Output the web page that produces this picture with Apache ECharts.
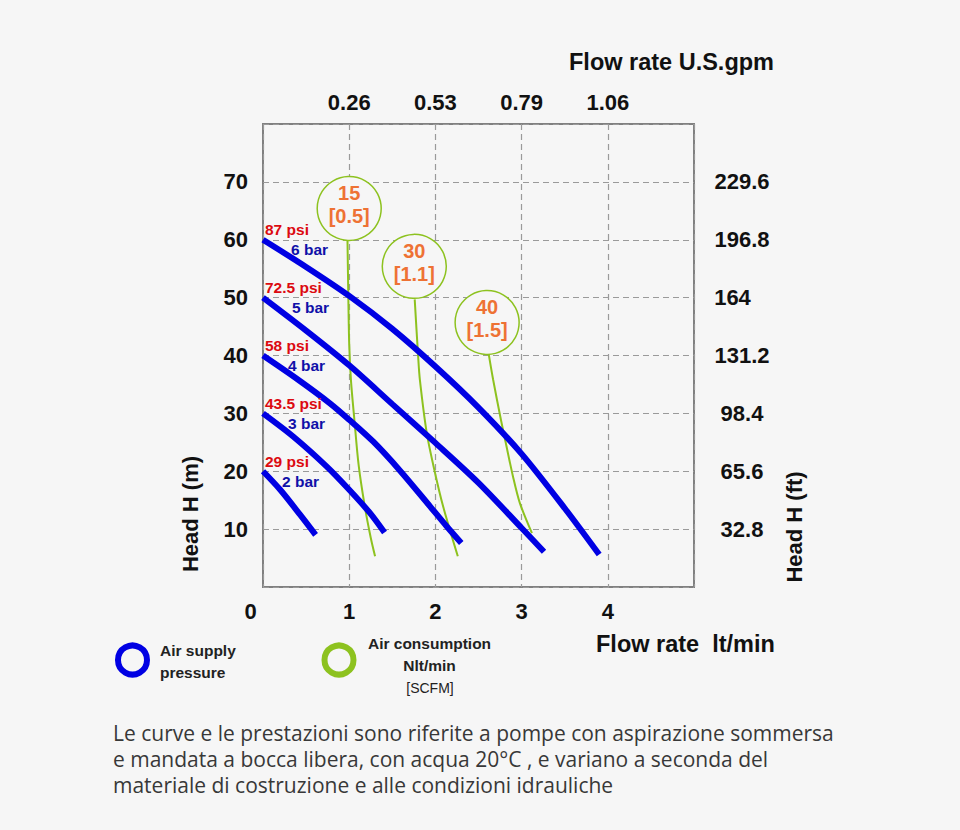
<!DOCTYPE html>
<html>
<head>
<meta charset="utf-8">
<script src="https://cdn.jsdelivr.net/npm/echarts@6/dist/echarts.min.js"></script>
<style>
html,body{margin:0;padding:0;background:#f6f6f6;}
#chart{width:960px;height:830px;}
</style>
</head>
<body>
<div id="chart"></div>
<script>
// ---------- DATA ----------
const flowLabels = ['0', '1', '2', '3', '4'];            // lt/min (bottom)
const gpmLabels = ['0.26', '0.53', '0.79', '1.06'];      // U.S.gpm at 1..4 lt/min (top)
const headMLabels = ['10', '20', '30', '40', '50', '60', '70'];
const headFtLabels = ['32.8', '65.6', '98.4', '131.2', '164', '196.8', '229.6'];

const pressureBar = ['6 bar', '5 bar', '4 bar', '3 bar', '2 bar'];
const pressurePsi = ['87 psi', '72.5 psi', '58 psi', '43.5 psi', '29 psi'];
const pressureStartHead = [60, 50, 40, 30, 20];

// Air supply pressure curves [flow lt/min, head m]
const curve6bar = [[0, 60], [0.5, 55.3], [1, 50.3], [1.5, 44.6], [2, 38.1], [2.5, 31.0], [3, 23.0], [3.5, 13.6], [3.9, 5.6]];
const curve5bar = [[0, 50], [0.5, 44.3], [1, 38.3], [1.5, 31.6], [2, 24.9], [2.5, 18.0], [3, 10.2], [3.26, 6.1]];
const curve4bar = [[0, 40], [0.4, 35.9], [0.78, 31.7], [1, 28.9], [1.28, 25.1], [1.59, 20.1], [1.94, 13.9], [2.13, 10.5], [2.30, 7.6]];
const curve3bar = [[0, 30], [0.35, 26.0], [0.74, 20.8], [1, 16.8], [1.24, 12.8], [1.41, 9.4]];
const curve2bar = [[0, 20], [0.2, 16.8], [0.43, 12.5], [0.61, 9.0]];

// Air consumption curves Nl/min
const air15 = [[0.98, 60], [0.99, 50], [1.0, 42], [1.02, 35.8], [1.06, 28.9], [1.11, 21], [1.18, 14], [1.25, 8.5], [1.30, 5.3]];
const air30 = [[1.76, 49.7], [1.80, 39.8], [1.82, 35.8], [1.90, 26.6], [1.99, 20.1], [2.09, 13.9], [2.26, 5.3]];
const air40 = [[2.62, 40.1], [2.67, 35.8], [2.76, 28.9], [2.815, 25.0], [2.90, 19.1], [2.98, 14.5], [3.12, 9.3]];

const airNl = ['15', '30', '40'];
const airScfm = ['0.5', '1.1', '1.5'];
const airBubble = [[1.0, 65.4], [1.755, 55.4], [2.6, 45.7]];

// ---------- STYLE ----------
const FONT = '"Liberation Sans", Arial, sans-serif';
const BG = '#f6f6f6';
const BLUE = '#0000e3';
const GREEN = '#8dc21f';
const ORANGE = '#ee7234';
const RED = '#dc0a10';
const DARKBLUE = '#1010a8';
const GRIDC = '#9a9a9a';
const blueLabelDx = [28, 29, 25, 25, 19];

const chart = echarts.init(document.getElementById('chart'), null, { renderer: 'svg' });

const tickLab = (arr, offset) => v => {
  const i = Math.round(v) - offset;
  return (Math.abs(v - Math.round(v)) < 1e-6 && i >= 0 && i < arr.length) ? arr[i] : '';
};

const pressureCurves = [curve6bar, curve5bar, curve4bar, curve3bar, curve2bar];
const airCurves = [air15, air30, air40];

const series = [];
pressureCurves.forEach((c, i) => {
  series.push({
    type: 'line', name: 'Air supply pressure ' + pressureBar[i], data: c,
    smooth: 0.3,
    showSymbol: false, symbol: 'none', silent: true, z: 4,
    lineStyle: { color: BLUE, width: 6, cap: 'butt' }
  });
});
airCurves.forEach((c, i) => {
  series.push({
    type: 'line', name: 'Air consumption ' + airNl[i], data: c,
    smooth: 0.3,
    showSymbol: false, symbol: 'none', silent: true, z: 3,
    lineStyle: { color: GREEN, width: 2 }
  });
});
series.push({
  type: 'scatter', name: 'Air consumption bubbles', silent: true, z: 5,
  symbol: 'circle', symbolSize: 64,
  itemStyle: { color: BG, borderColor: GREEN, borderWidth: 1.5, opacity: 1 },
  data: airBubble.map((p, i) => ({ value: p, name: airNl[i] + '\n[' + airScfm[i] + ']' })),
  label: {
    show: true, position: 'inside', offset: [0, -4], opacity: 1,
    formatter: p => p.name,
    color: ORANGE, fontFamily: FONT, fontWeight: 'bold', fontSize: 20, lineHeight: 23,
    textBorderWidth: 0, textShadowBlur: 0
  }
});
series.push({
  type: 'scatter', name: 'psi labels', silent: true, z: 6, symbolSize: 0,
  itemStyle: { opacity: 1 },
  data: pressureStartHead.map((h, i) => ({ value: [0, h], name: pressurePsi[i] })),
  label: {
    show: true, position: 'right', distance: 2, offset: [0, -10], opacity: 1,
    formatter: p => p.name, color: RED, fontFamily: FONT, fontWeight: 'bold', fontSize: 15.5,
    textBorderWidth: 0
  }
});
series.push({
  type: 'scatter', name: 'bar labels', silent: true, z: 6, symbolSize: 0,
  itemStyle: { opacity: 1 },
  data: pressureStartHead.map((h, i) => ({
    value: [0, h], name: pressureBar[i],
    label: { offset: [blueLabelDx[i], 10] }
  })),
  label: {
    show: true, position: 'right', distance: 0, opacity: 1,
    formatter: p => p.name, color: DARKBLUE, fontFamily: FONT, fontWeight: 'bold', fontSize: 15.5,
    textBorderWidth: 0
  }
});

const axisFont = { fontFamily: FONT, fontWeight: 'bold', fontSize: 22, color: '#111' };

const option = {
  backgroundColor: BG,
  animation: false,
  grid: {
    left: 263, top: 124, right: 266, bottom: 243,
    show: true, borderColor: '#808080', borderWidth: 2, backgroundColor: 'transparent'
  },
  xAxis: [
    {
      type: 'value', position: 'bottom', min: 0, max: 5, interval: 1,
      axisLine: { show: false }, axisTick: { show: false },
      splitLine: { show: true, lineStyle: { color: GRIDC, type: [6, 4], width: 1.2 } },
      axisLabel: Object.assign({
        margin: 13,
        formatter: v => { const s = tickLab(flowLabels, 0)(v); return v === 0 ? '{z|' + s + '}' : s; },
        rich: { z: Object.assign({ padding: [0, 25, 0, 0] }, axisFont) }
      }, axisFont)
    },
    {
      type: 'value', position: 'top', min: 0, max: 5, interval: 1,
      axisLine: { show: false }, axisTick: { show: false }, splitLine: { show: false },
      axisLabel: Object.assign({ margin: 11, formatter: tickLab(gpmLabels, 1) }, axisFont)
    }
  ],
  yAxis: [
    {
      type: 'value', position: 'left', min: 0, max: 80, interval: 10,
      axisLine: { show: false }, axisTick: { show: false },
      splitLine: { show: true, lineStyle: { color: GRIDC, type: [6, 4], width: 1.2 } },
      axisLabel: Object.assign({ margin: 15, formatter: v => tickLab(headMLabels, 1)(v / 10) }, axisFont)
    },
    {
      type: 'value', position: 'right', min: 0, max: 80, interval: 10,
      axisLine: { show: false }, axisTick: { show: false }, splitLine: { show: false },
      axisLabel: Object.assign({
        margin: 48, align: 'center',
        formatter: v => { const s = tickLab(headFtLabels, 1)(v / 10); return s.length === 3 ? '{s|' + s + '}' : s; },
        rich: { s: Object.assign({ padding: [0, 19, 0, 0] }, axisFont) }
      }, axisFont)
    }
  ],
  series: series,
  graphic: [
    { type: 'text', x: 569, y: 62, style: { text: 'Flow rate U.S.gpm', font: 'bold 23.5px ' + FONT, fill: '#111', align: 'left', verticalAlign: 'middle' } },
    { type: 'text', x: 596, y: 644, style: { text: 'Flow rate  lt/min', font: 'bold 23.5px ' + FONT, fill: '#111', align: 'left', verticalAlign: 'middle' } },
    { type: 'text', x: 190, y: 514, rotation: Math.PI / 2, style: { text: 'Head H (m)', font: 'bold 22px ' + FONT, fill: '#111', align: 'center', verticalAlign: 'middle' } },
    { type: 'text', x: 794, y: 527, rotation: Math.PI / 2, style: { text: 'Head H (ft)', font: 'bold 22px ' + FONT, fill: '#111', align: 'center', verticalAlign: 'middle' } },
    { type: 'circle', shape: { cx: 132.5, cy: 660, r: 14.5 }, style: { fill: 'none', stroke: BLUE, lineWidth: 6 } },
    { type: 'text', x: 160, y: 661, style: { text: 'Air supply\npressure', font: 'bold 15.5px ' + FONT, lineHeight: 22, fill: '#222', align: 'left', verticalAlign: 'middle' } },
    { type: 'circle', shape: { cx: 339, cy: 660, r: 14.5 }, style: { fill: 'none', stroke: GREEN, lineWidth: 6 } },
    { type: 'text', x: 429.5, y: 654, style: { text: 'Air consumption\nNlt/min', font: 'bold 15.5px ' + FONT, lineHeight: 22, fill: '#222', align: 'center', verticalAlign: 'middle' } },
    { type: 'text', x: 430, y: 688, style: { text: '[SCFM]', font: '14px ' + FONT, fill: '#222', align: 'center', verticalAlign: 'middle' } },
    { type: 'text', x: 113, y: 720, style: {
      text: 'Le curve e le prestazioni sono riferite a pompe con aspirazione sommersa\ne mandata a bocca libera, con acqua 20°C , e variano a seconda del\nmateriale di costruzione e alle condizioni idrauliche',
      font: '21px "Open Sans", sans-serif', lineHeight: 26, fill: '#383838', align: 'left', verticalAlign: 'top' } }
  ]
};
chart.setOption(option);
</script>
</body>
</html>
